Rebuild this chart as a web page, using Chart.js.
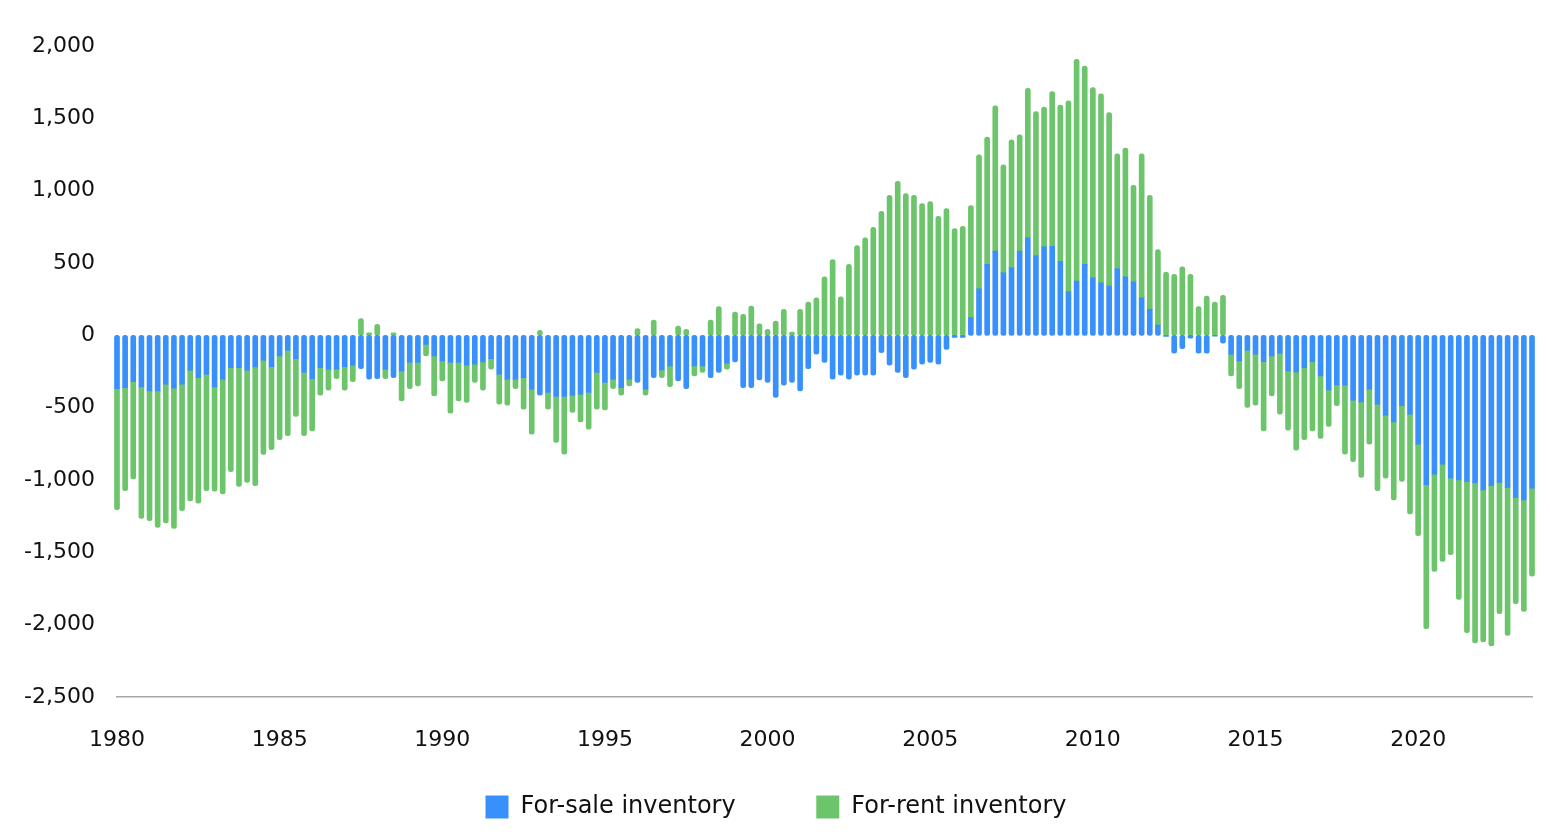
<!DOCTYPE html>
<html>
<head>
<meta charset="utf-8">
<script src="https://cdn.jsdelivr.net/npm/chart.js@4/dist/chart.umd.min.js"></script>
<style>
  html, body { margin: 0; padding: 0; background: #fff; }
  #wrap { width: 1550px; height: 838px; position: relative; }
</style>
</head>
<body>
<div id="wrap"><canvas id="inventoryChart"></canvas></div>
<script>
// quarterly series, first bar = 1980 Q1
const startYear = 1980;
const yTicks = [-2500, 2000, 500]; // min, max, step
const xTicks = [1980, 2023.5, 5];  // min, max, step
const seriesNames = ['For-sale inventory', 'For-rent inventory'];
const seriesColors = ['#3790fc', '#6cc56a'];

const forSale = [
  -368, -361, -320, -356, -384, -384, -338, -366, -338, -241, -292, -271, -356, -303, -223, -223, -241, -218, -172, -216,
  -143, -103, -161, -257, -299, -223, -234, -234, -216, -207, -230, -303, -299, -234, -292, -246, -188, -188, -62, -143,
  -177, -188, -188, -207, -200, -184, -161, -269, -303, -303, -292, -372, -414, -395, -423, -423, -414, -407, -395, -257,
  -326, -303, -361, -303, -326, -372, -292, -239, -211, -315, -368, -211, -211, -292, -257, -193, -184, -361, -361, -308,
  -326, -430, -345, -326, -384, -230, -131, -188, -303, -276, -303, -276, -276, -276, -120, -207, -257, -292, -234, -200,
  -188, -200, -97, -15, -15, 122, 322, 490, 582, 432, 467, 582, 674, 552, 612, 616, 512, 301, 375, 490,
  398, 363, 340, 462, 405, 370, 260, 179, 71, -8, -124, -92, -20, -124, -124, -5, -55, -131, -177, -103,
  -131, -182, -143, -124, -246, -253, -223, -182, -280, -377, -342, -345, -448, -460, -372, -476, -552, -598, -487, -545,
  -752, -1032, -959, -890, -988, -1000, -1009, -1021, -1069, -1039, -1016, -1051, -1120, -1138, -1057
];

const forRent = [
  -837, -713, -673, -909, -897, -943, -959, -968, -874, -904, -869, -803, -722, -794, -720, -821, -775, -821, -651, -575,
  -579, -591, -400, -437, -361, -191, -145, -65, -163, -113, 115, 18, 76, -65, 18, -207, -180, -162, -81, -275,
  -138, -350, -265, -257, -126, -195, -73, -207, -180, -65, -218, -311, 34, -115, -317, -398, -119, -191, -253, -253,
  -189, -65, -53, -47, 46, -42, 106, -53, -143, 64, 41, -69, -46, 106, 198, -41, 161, 145, 202, 80,
  41, 99, 179, 23, 179, 230, 260, 405, 524, 267, 490, 621, 674, 747, 857, 968, 1064, 979, 968, 910,
  924, 823, 876, 738, 754, 775, 926, 880, 1004, 747, 885, 804, 1034, 995, 965, 1069, 1079, 1320, 1533, 1372,
  1315, 1306, 1200, 793, 889, 667, 995, 789, 522, 437, 421, 474, 421, 198, 271, 230, 276, -149, -191, -396,
  -352, -478, -275, -421, -409, -540, -499, -478, -433, -253, -145, -476, -426, -522, -380, -598, -436, -540, -522, -690,
  -632, -996, -673, -673, -529, -825, -1046, -1105, -1051, -1108, -908, -1023, -735, -770, -607
];

const toPoints = arr => arr.map((v, i) => ({ x: startYear + i / 4, y: v }));

// round the outer ends of each stacked bar, keep the joint between the two colours square
function cornerRadius(isSale) {
  return (ctx) => {
    const i = ctx.dataIndex;
    if (i === undefined) return 0;
    const s = forSale[i], t = forRent[i];
    const v = isSale ? s : t;
    const sameSide = (s >= 0) === (t >= 0);
    const roundStart = isSale ? true : !sameSide;
    const roundEnd = isSale ? !sameSide : true;
    const top = v >= 0 ? roundEnd : roundStart;
    const bottom = v >= 0 ? roundStart : roundEnd;
    const r = 3;
    return { topLeft: top ? r : 0, topRight: top ? r : 0, bottomLeft: bottom ? r : 0, bottomRight: bottom ? r : 0 };
  };
}

Chart.defaults.font.family = '"DejaVu Sans", sans-serif';
Chart.defaults.color = '#111';

const ctx = document.getElementById('inventoryChart').getContext('2d');
new Chart(ctx, {
  type: 'bar',
  data: {
    datasets: [
      {
        label: seriesNames[0],
        data: toPoints(forSale),
        backgroundColor: seriesColors[0],
        borderSkipped: false,
        borderRadius: cornerRadius(true),
        barThickness: 5,
        clip: false
      },
      {
        label: seriesNames[1],
        data: toPoints(forRent),
        backgroundColor: seriesColors[1],
        borderSkipped: false,
        borderRadius: cornerRadius(false),
        barThickness: 5,
        clip: false
      }
    ]
  },
  options: {
    responsive: true,
    maintainAspectRatio: false,
    animation: false,
    devicePixelRatio: 1,
    locale: 'en-US',
    layout: { padding: { top: 46, right: 18, left: 20, bottom: 9 } },
    plugins: {
      tooltip: { enabled: false },
      legend: {
        position: 'bottom',
        labels: {
          boxWidth: 23,
          boxHeight: 23,
          padding: 12,
          font: { size: 24 },
          generateLabels: (chart) => {
            const items = Chart.defaults.plugins.legend.labels.generateLabels(chart);
            items[0].text = items[0].text + '         ';
            return items;
          }
        }
      }
    },
    scales: {
      x: {
        type: 'linear',
        stacked: true,
        offset: false,
        min: xTicks[0],
        max: xTicks[1],
        grid: { display: false, drawTicks: false, offset: false },
        border: { display: true, color: '#a6a6a6', width: 1.5 },
        ticks: {
          stepSize: xTicks[2],
          includeBounds: false,
          autoSkip: false,
          maxRotation: 0,
          padding: 30,
          font: { size: 22 },
          callback: (v) => (v % 5 === 0 ? String(v) : '')
        },
        afterFit: (scale) => { scale.height = 86; }
      },
      y: {
        stacked: true,
        min: yTicks[0],
        max: yTicks[1],
        grid: { display: false, drawTicks: false },
        border: { display: false },
        ticks: {
          stepSize: yTicks[2],
          padding: 22,
          font: { size: 22 }
        },
        afterFit: (scale) => { scale.width = 97; }
      }
    }
  }
});
</script>
</body>
</html>
